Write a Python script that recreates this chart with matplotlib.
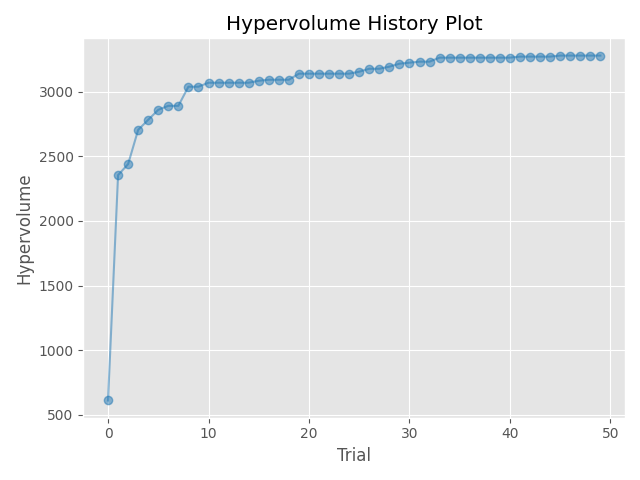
import matplotlib
matplotlib.use("Agg")
import matplotlib.pyplot as plt

trials = list(range(50))
hv = [610, 2355, 2440, 2705, 2783, 2860, 2891, 2891, 3039, 3039,
      3070, 3070, 3070, 3070, 3070, 3085, 3093, 3093, 3093, 3140,
      3140, 3140, 3140, 3140, 3140, 3155, 3178, 3178, 3194, 3217,
      3225, 3233, 3233, 3264, 3264, 3264, 3264, 3264, 3264, 3264,
      3264, 3272, 3272, 3272, 3272, 3280, 3280, 3280, 3280, 3280]

plt.style.use("ggplot")
fig, ax = plt.subplots(figsize=(6.4, 4.8), dpi=100)
ax.set_title("Hypervolume History Plot")
ax.set_xlabel("Trial")
ax.set_ylabel("Hypervolume")
ax.plot(trials, hv, marker="o", color="#1f77b4", alpha=0.5)
fig.tight_layout()
fig.savefig("out.png")
